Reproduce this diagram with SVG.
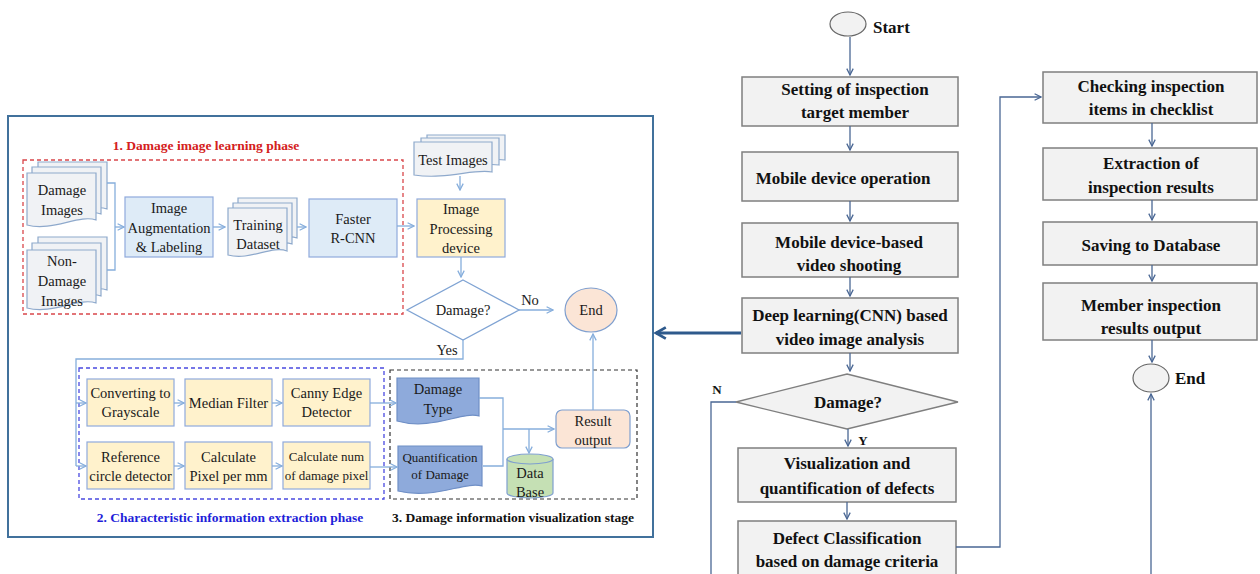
<svg xmlns="http://www.w3.org/2000/svg" width="1260" height="574" viewBox="0 0 1260 574">
<defs>
<style>
text{font-family:"Liberation Serif","Times New Roman","DejaVu Serif",serif}
.t{font-size:14.5px;fill:#1a1a1a;text-anchor:middle}
.ts{font-size:13px;fill:#1a1a1a;text-anchor:middle}
.tb{font-size:17px;font-weight:bold;fill:#111;text-anchor:middle}
.ttl{font-size:13.5px;font-weight:bold;text-anchor:middle}
.doc{fill:#F0F2F5;stroke:#8EA9CC;stroke-width:1.2}
.docb{fill:#8EAADB;stroke:#6F8FC6;stroke-width:1.2}
.bl{fill:#DEEBF7;stroke:#8FAADC;stroke-width:1.2}
.yl{fill:#FFF2CC;stroke:#8FAADC;stroke-width:1.2}
.pk{fill:#FBE5D6;stroke:#7F9FCF;stroke-width:1.2}
.gr{fill:#F2F2F2;stroke:#7F7F7F;stroke-width:1.5}
.cl{fill:none;stroke:#86AEDC;stroke-width:1.3}
.cr{fill:none;stroke:#4A6794;stroke-width:1.3}
</style>
<marker id="al" viewBox="0 0 10 10" refX="9" refY="5" markerWidth="8" markerHeight="8" orient="auto" markerUnits="userSpaceOnUse"><path d="M1,1 L9,5 L1,9" fill="none" stroke="#86AEDC" stroke-width="1.6"/></marker>
<marker id="ar" viewBox="0 0 10 10" refX="9" refY="5" markerWidth="8" markerHeight="8" orient="auto" markerUnits="userSpaceOnUse"><path d="M1,1 L9,5 L1,9" fill="none" stroke="#4A6794" stroke-width="1.6"/></marker>
<marker id="ak" viewBox="0 0 10 10" refX="8" refY="5" markerWidth="14" markerHeight="14" orient="auto" markerUnits="userSpaceOnUse"><path d="M1,1 L8,5 L1,9" fill="none" stroke="#2E5A8C" stroke-width="2"/></marker>
</defs>
<rect width="1260" height="574" fill="#fff"/>

<g id="panel">
<rect x="8" y="116" width="645" height="421" fill="#fff" stroke="#41719C" stroke-width="2"/>
<rect x="23" y="160" width="380" height="154" fill="none" stroke="#D9474B" stroke-width="1.3" stroke-dasharray="4,3"/>
<text class="ttl" x="206" y="150" fill="#D42020">1. Damage image learning phase</text>
<rect x="79" y="368" width="305" height="131" fill="none" stroke="#4A4AE0" stroke-width="1.3" stroke-dasharray="4,3"/>
<text class="ttl" x="230" y="522" fill="#1F1FD9">2. Characteristic information extraction phase</text>
<rect x="390" y="370" width="247" height="129" fill="none" stroke="#333" stroke-width="1.2" stroke-dasharray="4,3"/>
<text class="ttl" x="513" y="522" fill="#111">3. Damage information visualization stage</text>
</g>

<g id="damage-images">
<path class="doc" d="M38,162 H107 V209 C90,203 63,221 38,214 Z"/>
<path class="doc" d="M32,167 H101 V214 C84,208 57,226 32,219 Z"/>
<path class="doc" d="M27,173 H96 V220 C79,214 52,232 27,225 Z"/>
<text class="t" x="62" y="195">Damage</text>
<text class="t" x="62" y="215">Images</text>
</g>
<g id="non-damage-images">
<path class="doc" d="M38,237 H107 V290 C90,284 63,302 38,295 Z"/>
<path class="doc" d="M32,243 H101 V296 C84,290 57,308 32,301 Z"/>
<path class="doc" d="M27,250 H96 V303 C79,297 52,315 27,308 Z"/>
<text class="t" x="62" y="266">Non-</text>
<text class="t" x="62" y="286">Damage</text>
<text class="t" x="62" y="306">Images</text>
</g>
<g id="augmentation">
<rect class="bl" x="125" y="197" width="88" height="60"/>
<text class="t" x="169" y="213">Image</text>
<text class="t" x="169" y="233">Augmentation</text>
<text class="t" x="169" y="252">&amp; Labeling</text>
</g>
<g id="training-dataset">
<path class="doc" d="M238,198 H297 V238 C282,233 260,248 238,242 Z"/>
<path class="doc" d="M233,203 H292 V244 C277,239 255,254 233,248 Z"/>
<path class="doc" d="M228,208 H287 V251 C272,245 250,261 228,255 Z"/>
<text class="t" x="258" y="230">Training</text>
<text class="t" x="258" y="249">Dataset</text>
</g>
<g id="faster-rcnn">
<rect class="bl" x="309" y="199" width="88" height="58"/>
<text class="t" x="353" y="224">Faster</text>
<text class="t" x="353" y="243">R-CNN</text>
</g>
<g id="test-images">
<path class="doc" d="M427,135 H505 V160 C488,157 460,166 427,162 Z"/>
<path class="doc" d="M421,138 H499 V165 C482,162 454,171 421,167 Z"/>
<path class="doc" d="M414,142 H492 V172 C475,168 447,180 414,175 Z"/>
<text class="t" x="453" y="165">Test Images</text>
</g>
<g id="image-processing">
<rect class="yl" x="417" y="199" width="88" height="58"/>
<text class="t" x="461" y="214">Image</text>
<text class="t" x="461" y="234">Processing</text>
<text class="t" x="461" y="253">device</text>
</g>
<g id="damage-decision">
<polygon points="463,280 519,310 463,340 407,310" fill="#fff" stroke="#7FA3D3" stroke-width="1.3"/>
<text class="t" x="463" y="315">Damage?</text>
</g>
<g id="end-left">
<ellipse class="pk" cx="591" cy="310" rx="26" ry="22"/>
<text class="t" x="591" y="315">End</text>
</g>
<g id="grayscale">
<rect class="yl" x="87" y="379" width="87" height="47"/>
<text class="t" x="130.5" y="398">Converting to</text>
<text class="t" x="130.5" y="417">Grayscale</text>
</g>
<g id="median">
<rect class="yl" x="185" y="379" width="87" height="47"/>
<text class="t" x="228.5" y="408">Median Filter</text>
</g>
<g id="canny">
<rect class="yl" x="283" y="379" width="87" height="47"/>
<text class="t" x="326.5" y="398">Canny Edge</text>
<text class="t" x="326.5" y="417">Detector</text>
</g>
<g id="reference-circle">
<rect class="yl" x="87" y="442" width="87" height="47"/>
<text class="t" x="130.5" y="462">Reference</text>
<text class="t" x="130.5" y="481">circle detector</text>
</g>
<g id="pixel-per-mm">
<rect class="yl" x="185" y="442" width="87" height="47"/>
<text class="t" x="228.5" y="462">Calculate</text>
<text class="t" x="228.5" y="481">Pixel per mm</text>
</g>
<g id="damage-pixel">
<rect class="yl" x="283" y="442" width="87" height="47"/>
<text class="ts" x="326.5" y="461">Calculate num</text>
<text class="ts" x="326.5" y="480">of damage pixel</text>
</g>
<g id="damage-type">
<path class="docb" d="M397,378 H479 V416 C462,411 432,431 397,421 Z"/>
<text class="t" x="438" y="394">Damage</text>
<text class="t" x="438" y="414">Type</text>
</g>
<g id="quantification">
<path class="docb" d="M398,446 H482 V486 C465,481 434,500 398,491 Z"/>
<text class="ts" x="440" y="462">Quantification</text>
<text class="ts" x="440" y="479">of Damage</text>
</g>
<g id="database">
<path d="M507,459 V493 A23,5 0 0 0 553,493 V459" fill="#C5E0B4" stroke="#7F9FCF" stroke-width="1.2"/>
<ellipse cx="530" cy="459" rx="23" ry="5" fill="#C5E0B4" stroke="#7F9FCF" stroke-width="1.2"/>
<text class="t" x="530" y="478">Data</text>
<text class="t" x="530" y="497">Base</text>
</g>
<g id="result-output">
<rect class="pk" x="556" y="410" width="74" height="38" rx="6"/>
<text class="t" x="593" y="426">Result</text>
<text class="t" x="593" y="445">output</text>
</g>

<g id="start">
<ellipse cx="848" cy="24" rx="18" ry="12" fill="#F2F2F2" stroke="#666" stroke-width="1.2"/>
<text class="tb" x="873" y="33" style="text-anchor:start">Start</text>
</g>
<g id="setting">
<rect class="gr" x="742" y="77" width="216" height="49"/>
<text class="tb" x="855" y="95">Setting of inspection</text>
<text class="tb" x="855" y="118">target member</text>
</g>
<g id="mobile-operation">
<rect class="gr" x="742" y="152" width="216" height="49"/>
<text class="tb" x="843" y="184">Mobile device operation</text>
</g>
<g id="video-shooting">
<rect class="gr" x="742" y="223" width="216" height="54"/>
<text class="tb" x="849" y="248">Mobile device-based</text>
<text class="tb" x="849" y="271">video shooting</text>
</g>
<g id="cnn-analysis">
<rect class="gr" x="742" y="298" width="216" height="55"/>
<text class="tb" x="850" y="321">Deep learning(CNN) based</text>
<text class="tb" x="850" y="345">video image analysis</text>
</g>
<g id="damage-check">
<polygon points="847,374 958,402 847,429 736,402" fill="#F2F2F2" stroke="#7F7F7F" stroke-width="1.3"/>
<text class="tb" x="848" y="408">Damage?</text>
</g>
<g id="visualization">
<rect class="gr" x="738" y="448" width="218" height="54"/>
<text class="tb" x="847" y="469">Visualization and</text>
<text class="tb" x="847" y="494">quantification of defects</text>
</g>
<g id="classification">
<rect class="gr" x="738" y="521" width="218" height="56"/>
<text class="tb" x="847" y="544">Defect Classification</text>
<text class="tb" x="847" y="567">based on damage criteria</text>
</g>
<g id="checklist">
<rect class="gr" x="1043" y="72" width="214" height="51"/>
<text class="tb" x="1151" y="92">Checking inspection</text>
<text class="tb" x="1151" y="115">items in checklist</text>
</g>
<g id="extraction">
<rect class="gr" x="1043" y="148" width="214" height="52"/>
<text class="tb" x="1151" y="169">Extraction of</text>
<text class="tb" x="1151" y="193">inspection results</text>
</g>
<g id="saving">
<rect class="gr" x="1043" y="222" width="214" height="43"/>
<text class="tb" x="1151" y="251">Saving to Database</text>
</g>
<g id="member-output">
<rect class="gr" x="1043" y="283" width="214" height="57"/>
<text class="tb" x="1151" y="311">Member inspection</text>
<text class="tb" x="1151" y="334">results output</text>
</g>
<g id="end-right">
<ellipse cx="1151" cy="378" rx="18" ry="14" fill="#F2F2F2" stroke="#666" stroke-width="1.2"/>
<text class="tb" x="1175" y="384" style="text-anchor:start">End</text>
</g>

<g id="connectors">
<path class="cl" d="M107,183 H115 V270 H107"/>
<path class="cl" d="M115,227 H124" marker-end="url(#al)"/>
<path class="cl" d="M213,227 H225" marker-end="url(#al)"/>
<path class="cl" d="M297,227 H306" marker-end="url(#al)"/>
<path class="cl" d="M397,226 H414" marker-end="url(#al)"/>
<path class="cl" d="M460,176 V190" marker-end="url(#al)"/>
<path class="cl" d="M461,257 V277" marker-end="url(#al)"/>
<path class="cl" d="M519,310 H553" marker-end="url(#al)"/>
<text class="t" x="530" y="305">No</text>
<path class="cl" d="M463,340 V359 H76 V466"/>
<text class="t" x="447" y="355">Yes</text>
<path class="cl" d="M76,403 H86" marker-end="url(#al)"/>
<path class="cl" d="M76,466 H86" marker-end="url(#al)"/>
<path class="cl" d="M174,403 H184" marker-end="url(#al)"/>
<path class="cl" d="M272,403 H282" marker-end="url(#al)"/>
<path class="cl" d="M174,466 H184" marker-end="url(#al)"/>
<path class="cl" d="M272,466 H282" marker-end="url(#al)"/>
<path class="cl" d="M370,403 H396" marker-end="url(#al)"/>
<path class="cl" d="M370,467 H397" marker-end="url(#al)"/>
<path class="cl" d="M479,398 H503 V466 H483"/>
<path class="cl" d="M503,429 H554" marker-end="url(#al)"/>
<path class="cl" d="M529,429 V453" marker-end="url(#al)"/>
<path class="cl" d="M593,410 V334" marker-end="url(#al)"/>
<path d="M741,333 H656" fill="none" stroke="#2E5A8C" stroke-width="3" marker-end="url(#ak)"/>
<path class="cr" d="M850,37 V75" marker-end="url(#ar)"/>
<path class="cr" d="M850,126 V150" marker-end="url(#ar)"/>
<path class="cr" d="M850,201 V221" marker-end="url(#ar)"/>
<path class="cr" d="M850,277 V296" marker-end="url(#ar)"/>
<path class="cr" d="M850,353 V371" marker-end="url(#ar)"/>
<path class="cr" d="M848,429 V446" marker-end="url(#ar)"/>
<text class="tb" x="863" y="445" style="font-size:13px">Y</text>
<path class="cr" d="M847,502 V519" marker-end="url(#ar)"/>
<path class="cr" d="M736,402 H711 V574"/>
<text class="tb" x="717" y="394" style="font-size:13px">N</text>
<path class="cr" d="M956,547 H1000 V97 H1041" marker-end="url(#ar)"/>
<path class="cr" d="M1152,123 V146" marker-end="url(#ar)"/>
<path class="cr" d="M1152,200 V220" marker-end="url(#ar)"/>
<path class="cr" d="M1152,265 V281" marker-end="url(#ar)"/>
<path class="cr" d="M1152,340 V362" marker-end="url(#ar)"/>
<path class="cr" d="M1151,574 V394" marker-end="url(#ar)"/>
</g>
</svg>
